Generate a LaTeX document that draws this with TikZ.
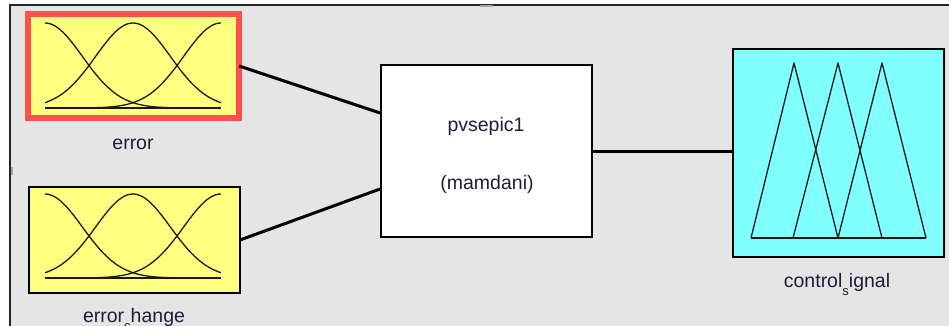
\documentclass[tikz,border=0pt]{standalone}
\usepackage{fontspec}
\setmainfont{Liberation Sans}
\usetikzlibrary{calc}
\definecolor{bgray}{HTML}{E5E5E5}
\definecolor{mfyellow}{HTML}{FFFF80}
\definecolor{mfcyan}{HTML}{80FFFF}
\definecolor{selred}{HTML}{FF5050}
\definecolor{txt}{HTML}{1E1E3C}
\definecolor{curve}{HTML}{1A1A1A}
\newcommand{\lowsub}[1]{\raisebox{-0.42em}{\fontsize{13}{13}\selectfont #1}}
\tikzset{
  varbox/.style={draw=black, line width=1.6pt, minimum width=211pt, inner sep=0pt, outer sep=0pt},
  fisbox/.style={draw=black, line width=2pt, fill=white, minimum width=211pt, minimum height=172pt, inner sep=0pt},
  lbl/.style={font=\fontsize{19.5}{22}\selectfont, text=txt, inner sep=0pt},
  conn/.style={line width=3pt, black},
  mf/.style={line width=1.3pt, curve, line join=round}
}
\begin{document}
\begin{tikzpicture}[x=1pt,y=-1pt]
\useasboundingbox (0,0) rectangle (949,326);
\clip (0,0) rectangle (949,326);
\fill[white] (0,0) rectangle (949,326);
\fill[bgray] (10,5) rectangle (949,326);
\draw[line width=1.2pt, black!85] (10,326) -- (10,5) -- (949,5);
\fill[gray!70] (480,5.5) rectangle (493,7.5);
\fill[gray!70] (10.5,167) rectangle (12.5,175);

% input: error (selected)
\node[varbox, draw=selred, line width=6pt, fill=mfyellow, minimum height=104pt] (err) at (133.5,66) {};
% input: error_change
\node[varbox, fill=mfyellow, minimum height=106pt] (chg) at (134.5,240) {};
% FIS block
\node[fisbox] (fis) at (486.5,151) {};
% output
\node[varbox, line width=2pt, fill=mfcyan, minimum height=208pt] (out) at (838.5,153) {};

% gaussian membership functions
\foreach \yb/\h in {108/85, 278/84} {
  \draw[mf] (45,\yb) -- (221,\yb);
  \foreach \c in {0,1,2} {
    \draw[mf] plot[smooth, domain=0:2, samples=61, variable=\t]
      ({45+88*\t}, {\yb-\h*exp(-(\t-\c)*(\t-\c)/0.3612)});
  }
}

% triangular membership functions
\draw[mf] (751,238) -- (926,238);
\draw[mf] (751,238) -- (794,63) -- (838,238);
\draw[mf] (793,238) -- (838,63) -- (882,238);
\draw[mf] (838,238) -- (882,63) -- (926,238);

% labels
\node[lbl, anchor=base] (lerr) at (133,149) {error};
\node[lbl, anchor=base] (lchg) at (134,322.5) {error\lowsub{c}hange};
\node[lbl, anchor=base] (lfis1) at (486,131) {pvsepic1};
\node[lbl, anchor=base] (lfis2) at (487,189) {(mamdani)};
\node[lbl, anchor=base] (lout) at (837,287) {control\lowsub{s}ignal};

% connectors
\draw[conn] (err.east) -- ([yshift=38pt]fis.west);
\draw[conn] (chg.east) -- ([yshift=-38pt]fis.west);
\draw[conn] (fis.east) -- (fis.east -| out.west);
\end{tikzpicture}
\end{document}
